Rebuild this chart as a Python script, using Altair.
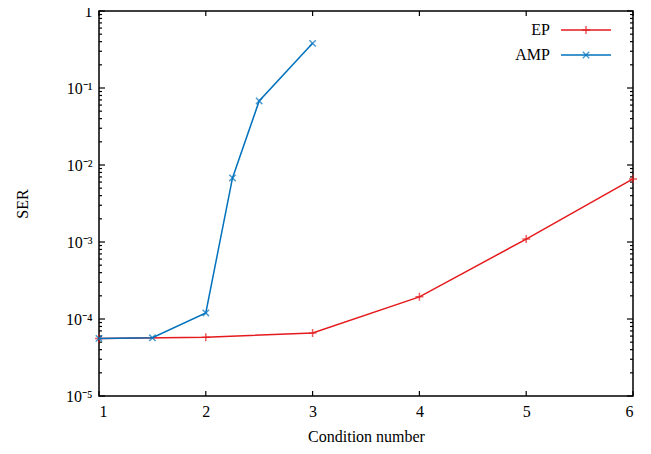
import altair as alt
import pandas as pd

# ---- data ----
series = ["EP", "AMP"]
colors = ["#e41a1c", "#0072bd"]

ep_x = [1, 2, 3, 4, 5, 6]
ep_y = [5.6e-5, 5.8e-5, 6.6e-5, 1.94e-4, 1.09e-3, 6.6e-3]

amp_x = [1, 1.5, 2, 2.25, 2.5, 3]
amp_y = [5.6e-5, 5.7e-5, 1.2e-4, 6.8e-3, 6.8e-2, 0.38]

x_ticks = [1, 2, 3, 4, 5, 6]
y_major = [1e-5, 1e-4, 1e-3, 1e-2, 1e-1, 1]
y_labels = ["10⁻⁵", "10⁻⁴", "10⁻³", "10⁻²", "10⁻¹", "1"]
y_minor = [m * 10.0 ** e for e in range(-5, 0) for m in range(2, 10)]

W, H = 534, 385
FONT = "Liberation Serif"

ep_df = pd.DataFrame({"x": ep_x, "y": ep_y})
amp_df = pd.DataFrame({"x": amp_x, "y": amp_y})
xt_df = pd.DataFrame({"x": x_ticks})
ymaj_df = pd.DataFrame({"y": y_major})
ymin_df = pd.DataFrame({"y": y_minor})

label_expr = "[" + ",".join("'%s'" % s for s in y_labels) + "][round(log(datum.value)/LN10)+5]"

axis_font = dict(labelFont=FONT, titleFont=FONT, labelFontSize=16, titleFontSize=16,
                 titleFontWeight="normal", labelColor="black", titleColor="black")

X = alt.X(
    "x:Q",
    scale=alt.Scale(domain=[1, 6], nice=False, zero=False),
    axis=alt.Axis(values=x_ticks, title="Condition number", ticks=False, domain=False,
                  grid=False, labelPadding=7, titlePadding=9, format="d", **axis_font),
)
Y = alt.Y(
    "y:Q",
    scale=alt.Scale(type="log", domain=[1e-5, 1], nice=False),
    axis=alt.Axis(values=y_major, title="SER", ticks=False, domain=False, grid=False,
                  labelPadding=7, labelExpr=label_expr, titleX=-77, titleY=H / 2,
                  titleAlign="center", titleBaseline="middle", **axis_font),
)

plus_path = "M-1,0L1,0M0,-1L0,1"
cross_path = "M-0.8,-0.8L0.8,0.8M-0.8,0.8L0.8,-0.8"

base_ep = alt.Chart(ep_df).encode(x=X, y=Y)
base_amp = alt.Chart(amp_df).encode(x=X, y=Y)

ep_line = base_ep.mark_line(color=colors[0], strokeWidth=1.5)
ep_pts = base_ep.mark_point(shape=plus_path, filled=False, size=64, color=colors[0], strokeWidth=1.5)
amp_line = base_amp.mark_line(color=colors[1], strokeWidth=1.5)
amp_pts = base_amp.mark_point(shape=cross_path, filled=False, size=64, color=colors[1], strokeWidth=1.5)

# inward ticks (gnuplot style)
tick_style = dict(color="black", strokeWidth=1.2)
xt_bot = alt.Chart(xt_df).mark_rule(**tick_style).encode(x=X, y=alt.value(H), y2=alt.value(H - 5))
xt_top = alt.Chart(xt_df).mark_rule(**tick_style).encode(x=X, y=alt.value(0), y2=alt.value(5))
ymaj_l = alt.Chart(ymaj_df).mark_rule(**tick_style).encode(y=Y, x=alt.value(0), x2=alt.value(6))
ymaj_r = alt.Chart(ymaj_df).mark_rule(**tick_style).encode(y=Y, x=alt.value(W - 6), x2=alt.value(W))
ymin_l = alt.Chart(ymin_df).mark_rule(**tick_style).encode(y=Y, x=alt.value(0), x2=alt.value(3))
ymin_r = alt.Chart(ymin_df).mark_rule(**tick_style).encode(y=Y, x=alt.value(W - 3), x2=alt.value(W))

# gnuplot-style key (label, then sample line with marker)
key_layers = []
key_rows = [(series[0], colors[0], plus_path, 19), (series[1], colors[1], cross_path, 44)]
for name, col, shp, ky in key_rows:
    kdf = pd.DataFrame({"name": [name]})
    key_layers.append(alt.Chart(kdf).mark_text(align="right", baseline="middle", font=FONT,
                                                fontSize=16, color="black")
                      .encode(text="name:N", x=alt.value(451), y=alt.value(ky)))
    key_layers.append(alt.Chart(kdf).mark_rule(color=col, strokeWidth=1.5)
                      .encode(x=alt.value(462), x2=alt.value(512), y=alt.value(ky)))
    key_layers.append(alt.Chart(kdf).mark_point(shape=shp, filled=False, size=64, color=col,
                                                strokeWidth=1.5)
                      .encode(x=alt.value(487), y=alt.value(ky)))

chart = alt.layer(
    xt_bot, xt_top, ymaj_l, ymaj_r, ymin_l, ymin_r,
    ep_line, ep_pts, amp_line, amp_pts, *key_layers
).properties(
    width=W, height=H,
    background="white",
    autosize=alt.AutoSizeParams(type="none"),
    padding={"left": 91, "top": 3, "right": 10, "bottom": 50},
).configure_view(
    stroke="black", strokeWidth=1.5
)

chart.save("out.html", embed_options={"renderer": "svg", "actions": False})
